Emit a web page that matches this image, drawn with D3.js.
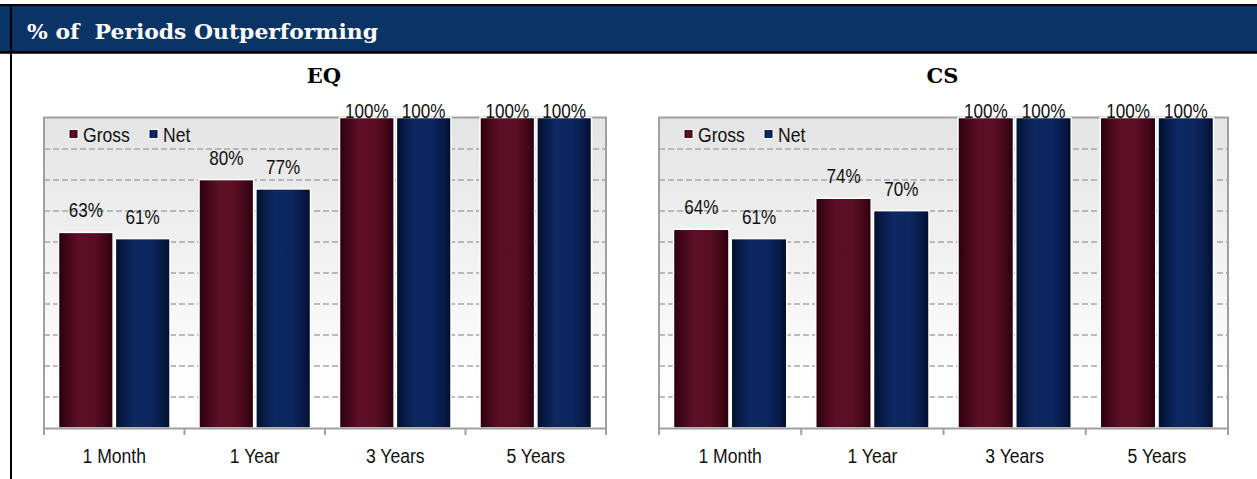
<!DOCTYPE html>
<html>
<head>
<meta charset="utf-8">
<script src="https://cdn.jsdelivr.net/npm/d3@7"></script>
<style>
  body { margin: 0; background: #fff; }
  svg { display: block; }
</style>
</head>
<body>
<svg id="chart" width="1257" height="479"></svg>
<script>
const categories = ["1 Month", "1 Year", "3 Years", "5 Years"];
const seriesNames = ["Gross", "Net"];
const eqGross = [63, 80, 100, 100];
const eqNet = [61, 77, 100, 100];
const csGross = [64, 74, 100, 100];
const csNet = [61, 70, 100, 100];
const gridValues = [10, 20, 30, 40, 50, 60, 70, 80, 90];

const svg = d3.select("#chart");
const defs = svg.append("defs");

function addBarGradient(id, stops) {
    const g = defs.append("linearGradient")
        .attr("id", id)
        .attr("x1", "0").attr("x2", "1").attr("y1", "0").attr("y2", "0");
    stops.forEach(s => {
        g.append("stop").attr("offset", s[0]).attr("stop-color", s[1]);
    });
}

addBarGradient("gradGross", [
    ["0%", "#2a000e"], ["18%", "#46071b"], ["35%", "#5c0f26"],
    ["65%", "#5a0e24"], ["86%", "#430719"], ["100%", "#2a000e"]
]);
addBarGradient("gradNet", [
    ["0%", "#000f2c"], ["18%", "#081d4c"], ["35%", "#0e2862"],
    ["65%", "#0d2660"], ["86%", "#081b48"], ["100%", "#000f2c"]
]);

const bg = defs.append("linearGradient")
    .attr("id", "plotBg")
    .attr("x1", "0").attr("x2", "0").attr("y1", "0").attr("y2", "1");
bg.append("stop").attr("offset", "0%").attr("stop-color", "#e4e4e4");
bg.append("stop").attr("offset", "90%").attr("stop-color", "#ffffff");

const fills = { Gross: "url(#gradGross)", Net: "url(#gradNet)" };
const sansFont = "'Liberation Sans', Arial, sans-serif";

// header band
svg.append("rect")
    .attr("x", 0).attr("y", 5)
    .attr("width", 1257).attr("height", 47)
    .attr("fill", "#0a3466");
svg.append("line")
    .attr("x1", 0).attr("x2", 1257).attr("y1", 5).attr("y2", 5)
    .attr("stroke", "#000").attr("stroke-width", 2);
svg.append("line")
    .attr("x1", 0).attr("x2", 1257).attr("y1", 52.5).attr("y2", 52.5)
    .attr("stroke", "#000").attr("stroke-width", 2.5);
svg.append("line")
    .attr("x1", 11).attr("x2", 11).attr("y1", 4).attr("y2", 479)
    .attr("stroke", "#000").attr("stroke-width", 2);

svg.append("text")
    .attr("x", 27).attr("y", 39)
    .attr("fill", "#fff")
    .attr("font-family", "'DejaVu Serif', serif")
    .attr("font-weight", "bold")
    .attr("font-size", 21)
    .attr("textLength", 351)
    .attr("lengthAdjust", "spacingAndGlyphs")
    .style("white-space", "pre")
    .text("% of  Periods Outperforming");

function renderPanel(title, left, right, gross, net) {
    const top = 117.5, bottom = 428;
    const width = right - left, height = bottom - top;
    const data = categories.map((c, i) => ({ cat: c, Gross: gross[i], Net: net[i] }));

    const x0 = d3.scaleBand().domain(categories).range([0, width]).padding(0);
    const pad = 14.5;
    const x1 = d3.scaleBand().domain(seriesNames)
        .range([pad, x0.bandwidth() - pad]).paddingInner(0.04);
    const y = d3.scaleLinear().domain([0, 100]).range([height, 0]);

    svg.append("text")
        .attr("x", left + width / 2 - 1).attr("y", 83)
        .attr("text-anchor", "middle")
        .attr("font-family", "'DejaVu Serif', serif")
        .attr("font-weight", "bold")
        .attr("font-size", 21)
        .text(title);

    const g = svg.append("g").attr("transform", `translate(${left},${top})`);

    g.append("rect")
        .attr("width", width).attr("height", height)
        .attr("fill", "url(#plotBg)");

    g.selectAll(".grid")
        .data(gridValues)
        .enter().append("line")
        .attr("class", "grid")
        .attr("x1", 0).attr("x2", width)
        .attr("y1", d => Math.round(y(d)) + 0.5).attr("y2", d => Math.round(y(d)) + 0.5)
        .attr("stroke", "#a6a6a6")
        .attr("stroke-width", 1.5)
        .attr("stroke-dasharray", "6,3");

    // frame (left, top, right)
    g.append("path")
        .attr("d", `M0,${height}V0H${width}V${height}`)
        .attr("fill", "none")
        .attr("stroke", "#a0a0a0")
        .attr("stroke-width", 2);

    const groups = g.selectAll(".cat")
        .data(data)
        .enter().append("g")
        .attr("class", "cat")
        .attr("transform", d => `translate(${x0(d.cat)},0)`);

    groups.selectAll("rect")
        .data(d => seriesNames.map(s => ({ s: s, v: d[s] })))
        .enter().append("rect")
        .attr("x", d => x1(d.s))
        .attr("y", d => y(d.v))
        .attr("width", x1.bandwidth())
        .attr("height", d => height - y(d.v))
        .attr("fill", d => fills[d.s])
        .attr("stroke", "#fff")
        .attr("stroke-width", 1.5);

    groups.selectAll(".lbl")
        .data(d => seriesNames.map(s => ({ s: s, v: d[s] })))
        .enter().append("text")
        .attr("class", "lbl")
        .attr("transform", d => `translate(${x1(d.s) + x1.bandwidth() / 2},${Math.max(y(d.v) - 15, 0.5)}) scale(0.95,1.1)`)
        .attr("text-anchor", "middle")
        .attr("font-family", sansFont)
        .attr("font-size", 18)
        .attr("fill", "#111")
        .text(d => d.v + "%");

    // x axis
    const axis = g.append("g")
        .attr("transform", `translate(0,${height})`)
        .call(d3.axisBottom(x0).tickSize(0).tickPadding(0));
    axis.select(".domain").attr("stroke", "#a0a0a0").attr("stroke-width", 2);
    axis.selectAll(".tick text")
        .attr("dy", null)
        .attr("y", null)
        .attr("transform", "translate(0,35) scale(0.95,1.12)")
        .attr("font-family", sansFont)
        .attr("font-size", 18.5)
        .attr("fill", "#111");
    axis.selectAll(".sep")
        .data(categories.concat(["end"]))
        .enter().append("line")
        .attr("class", "sep")
        .attr("x1", (d, i) => i * x0.bandwidth()).attr("x2", (d, i) => i * x0.bandwidth())
        .attr("y1", 0).attr("y2", 7)
        .attr("stroke", "#a0a0a0").attr("stroke-width", 2);

    // legend
    const legend = g.append("g").attr("transform", "translate(25,12)");
    const legendOffsets = [0, 80];
    seriesNames.forEach((s, i) => {
        const item = legend.append("g").attr("transform", `translate(${legendOffsets[i]},0)`);
        item.append("rect")
            .attr("x", 0).attr("y", 0).attr("width", 9).attr("height", 9)
            .attr("fill", fills[s]).attr("stroke", "#fff").attr("stroke-width", 1);
        item.append("text")
            .attr("transform", "translate(14,12) scale(0.95,1.1)")
            .attr("font-family", sansFont)
            .attr("font-size", 18.5)
            .attr("fill", "#111")
            .text(s);
    });
}

renderPanel("EQ", 44, 606, eqGross, eqNet);
renderPanel("CS", 659, 1228, csGross, csNet);
</script>
</body>
</html>
